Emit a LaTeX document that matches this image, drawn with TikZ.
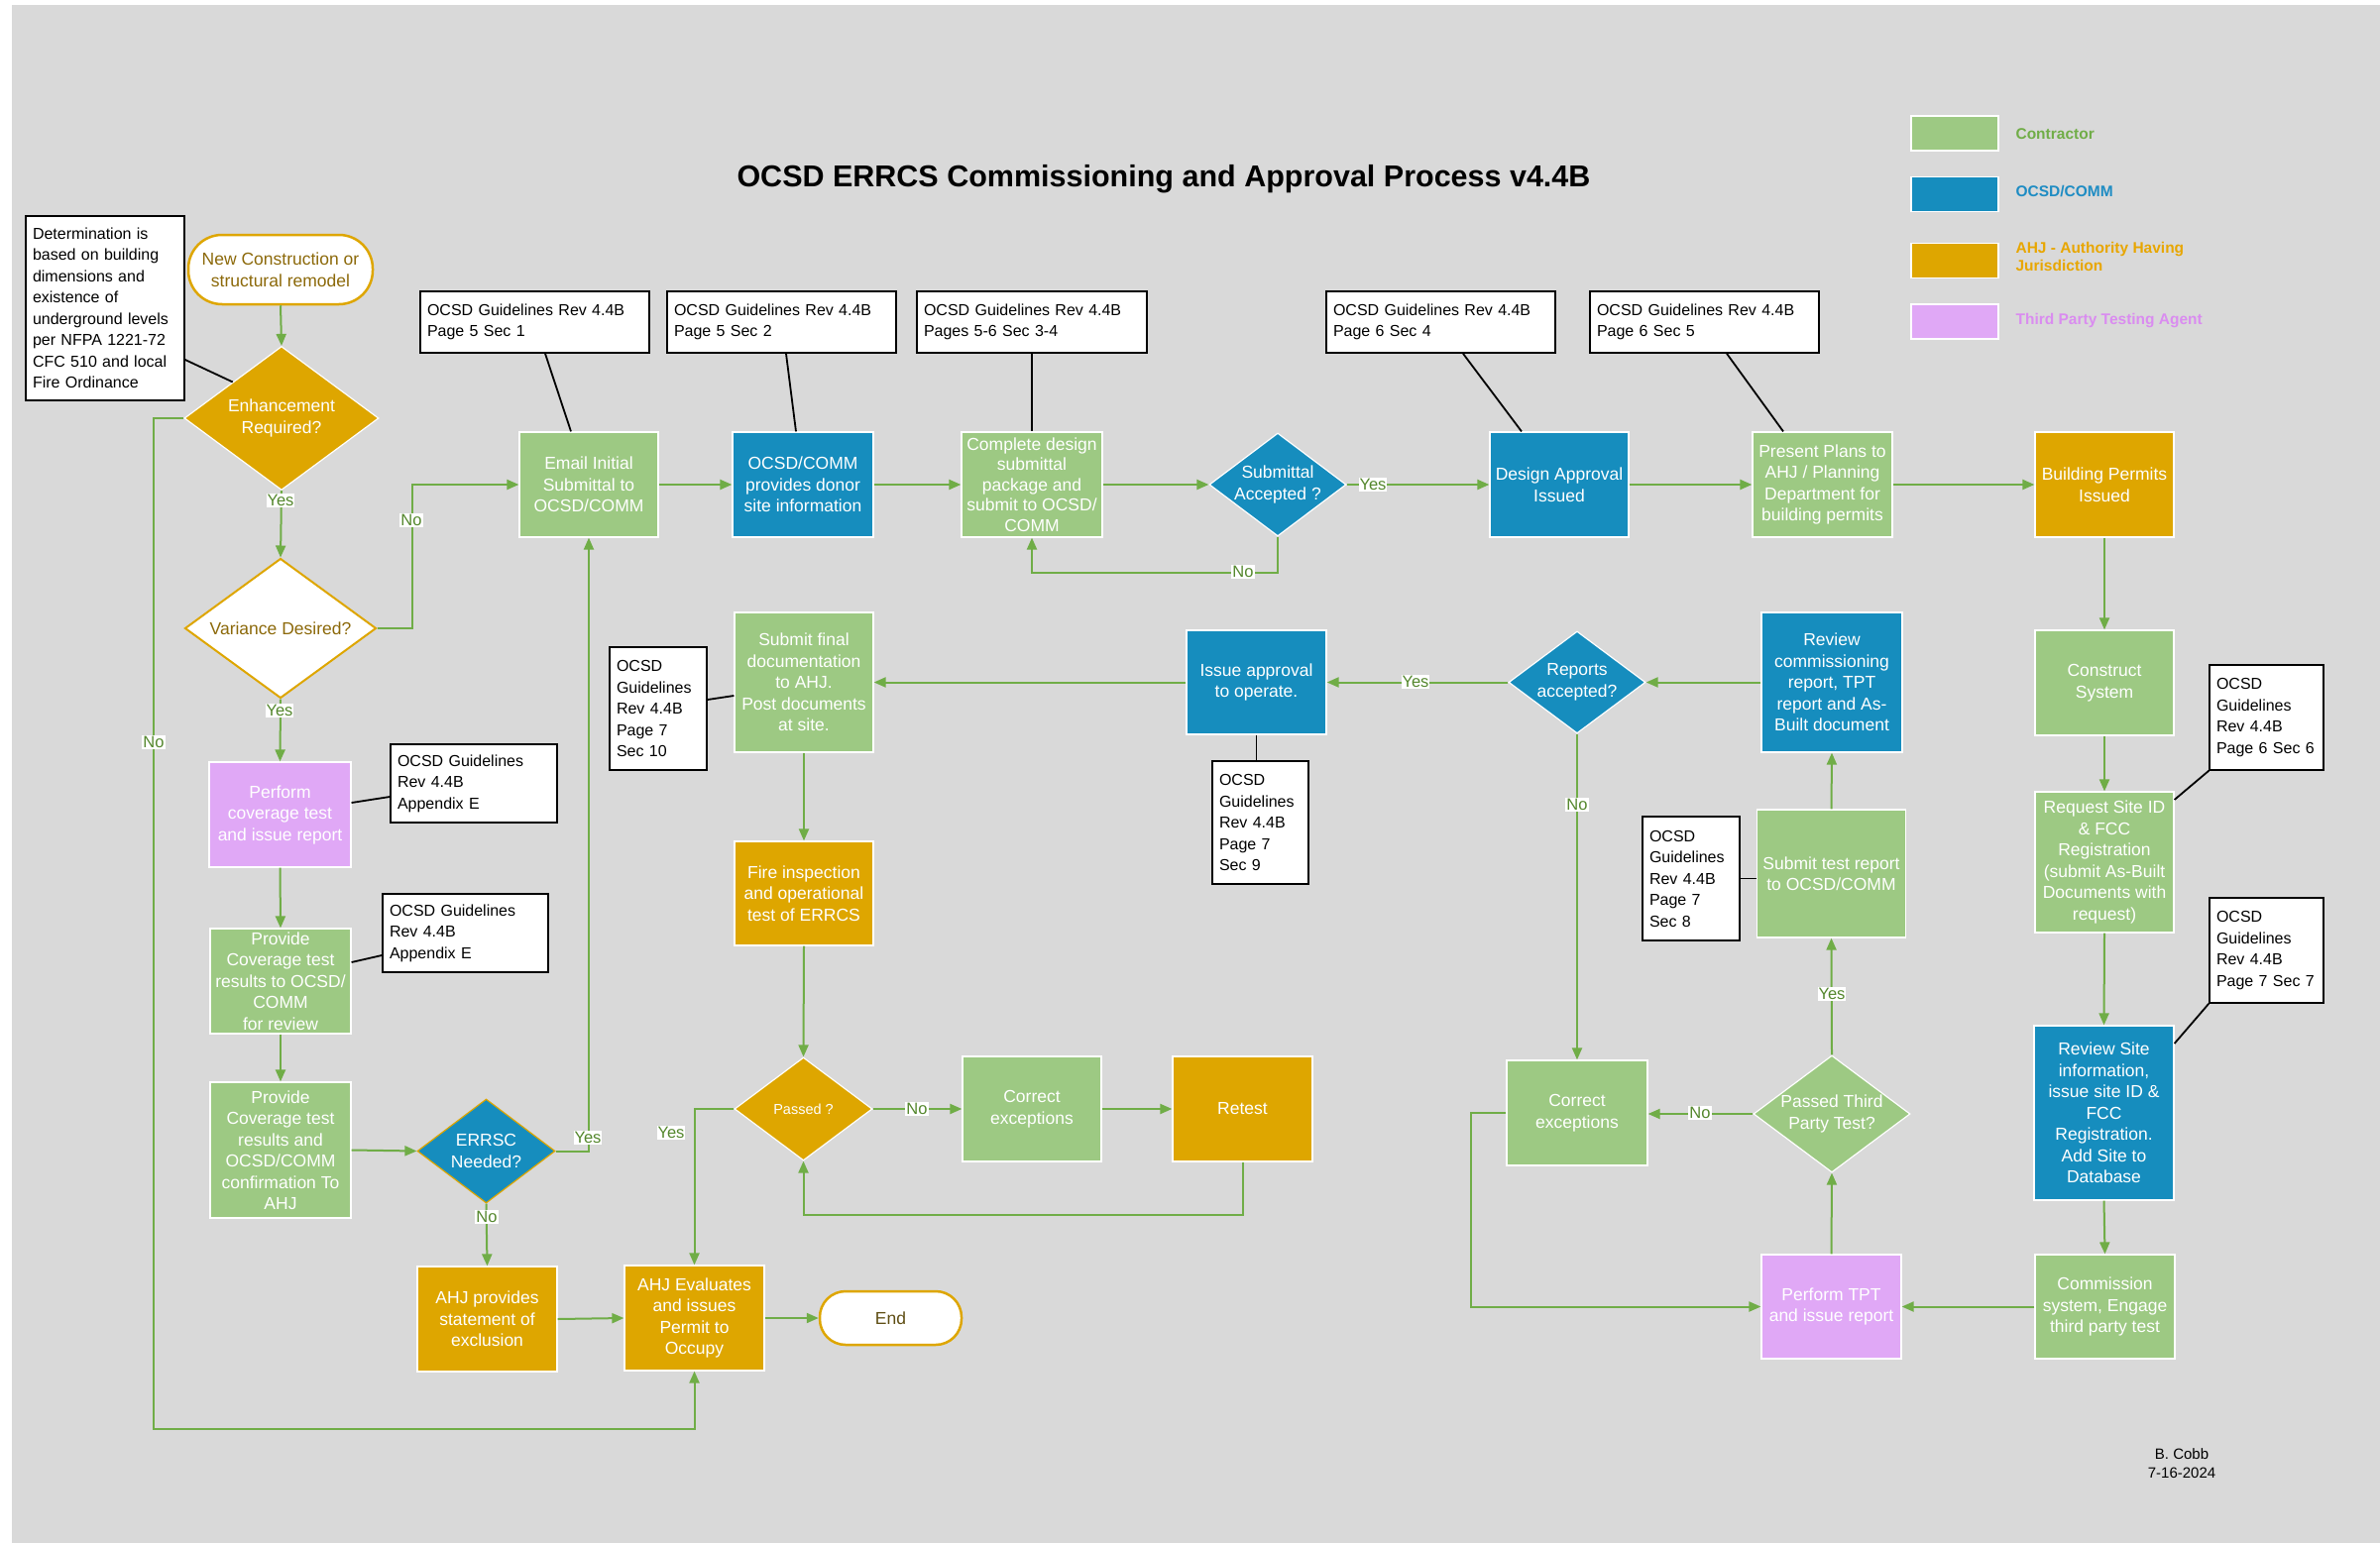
\documentclass[tikz,border=0pt]{standalone}
\usepackage{fontspec}
\setmainfont{Liberation Sans}
\usetikzlibrary{shapes.geometric,arrows.meta,calc}
\definecolor{bgc}{RGB}{217,217,217}
\definecolor{cgreen}{RGB}{157,201,131}
\definecolor{cblue}{RGB}{22,141,190}
\definecolor{cgold}{RGB}{222,166,0}
\definecolor{cpink}{RGB}{224,168,246}
\definecolor{cline}{RGB}{112,173,71}
\definecolor{clbl}{RGB}{84,135,45}
\definecolor{cterm}{RGB}{140,105,10}
\definecolor{cend}{RGB}{95,78,20}
\definecolor{lgreen}{RGB}{112,173,71}
\definecolor{lblue}{RGB}{30,140,195}
\definecolor{lgold}{RGB}{232,166,0}
\definecolor{lpink}{RGB}{218,140,240}
\begin{document}
\begin{tikzpicture}[x=1pt,y=-1pt,
  box/.style={rectangle, draw=white, line width=1.2pt, text=white, align=center, inner sep=2pt, font=\fontsize{17.5}{21.5}\selectfont},
  gbox/.style={box, fill=cgreen},
  bbox/.style={box, fill=cblue},
  obox/.style={box, fill=cgold},
  pbox/.style={box, fill=cpink},
  dia/.style={diamond, inner sep=0pt, line width=1.2pt, draw=white},
  dtxt/.style={text=white, align=center, font=\fontsize{17.5}{21.5}\selectfont},
  note/.style={rectangle, draw=black, line width=1.6pt, fill=white, align=left, inner xsep=7pt, inner ysep=0pt, font=\fontsize{16}{21.5}\selectfont},
  term/.style={rectangle, rounded corners=26pt, draw=cgold, line width=2.5pt, fill=white, align=center, font=\fontsize{17.5}{21.5}\selectfont},
  arr/.style={draw=cline, line width=2pt, -{Triangle[length=12pt,width=10pt]}},
  lead/.style={draw=black, line width=1.8pt},
  lbl/.style={fill=white, text=clbl, inner sep=1pt, font=\fontsize{16.5}{18}\selectfont},
  lgbox/.style={rectangle, draw=white, line width=1.5pt, minimum width=88pt, minimum height=35pt},
  lgtxt/.style={anchor=west, align=left, font=\bfseries\fontsize{15.5}{18}\selectfont}
]
\useasboundingbox (0,0) rectangle (2401,1557);
\fill[white] (0,0) rectangle (2401,1557);
\fill[bgc] (12,5) rectangle (2401,1557);

% title
\node[font=\bfseries\fontsize{30.5}{36}\selectfont] (title) at (1174,181) {OCSD ERRCS Commissioning and Approval Process v4.4B};

% legend
\node[lgbox, fill=cgreen] (lg1) at (1972,134.5) {};
\node[lgtxt, text=lgreen] (lg1t) at (2030,135) {Contractor};
\node[lgbox, fill=cblue] (lg2) at (1972,196) {};
\node[lgtxt, text=lblue] (lg2t) at (2030,193) {OCSD/COMM};
\node[lgbox, fill=cgold] (lg3) at (1972,263) {};
\node[lgtxt, text=lgold] (lg3t) at (2030,259) {AHJ - Authority Having\\Jurisdiction};
\node[lgbox, fill=cpink] (lg4) at (1972,324.5) {};
\node[lgtxt, text=lpink] (lg4t) at (2030,324) {Third Party Testing Agent};

% signature
\node[align=center, font=\fontsize{15}{19}\selectfont] (sig) at (2201,1477) {B. Cobb\\7-16-2024};

% ---------- left column ----------
\node[note, minimum width=160pt, minimum height=186pt, text width=146pt] (det) at (106,311) {Determination is\\based on building\\dimensions and\\existence of\\underground levels\\per NFPA 1221-72\\CFC 510 and local\\Fire Ordinance};
\node[term, rounded corners=34pt, text=cterm, minimum width=186pt, minimum height=70pt] (new) at (283,272) {New Construction or\\structural remodel};
\node[dia, fill=cgold, minimum width=196pt, minimum height=145pt, label={[dtxt]center:Enhancement\\Required?}] (enh) at (284,422) {};
\node[dia, fill=white, draw=cgold, line width=2pt, minimum width=193pt, minimum height=141pt, label={[dtxt, text=cterm]center:Variance Desired?}] (var) at (283,634) {};
\node[pbox, minimum width=143pt, minimum height=106pt] (perform) at (282.5,822) {Perform\\coverage test\\and issue report};
\node[note, minimum width=168pt, minimum height=79pt, text width=154pt] (noteA) at (478,790.5) {OCSD Guidelines\\Rev 4.4B\\Appendix E};
\node[gbox, minimum width=142pt, minimum height=106pt] (provrev) at (283,990) {Provide\\Coverage test\\results to OCSD/\\COMM\\for review};
\node[note, minimum width=167pt, minimum height=79pt, text width=153pt] (noteB) at (469.5,941.5) {OCSD Guidelines\\Rev 4.4B\\Appendix E};
\node[gbox, minimum width=142pt, minimum height=137pt] (provconf) at (283,1160.5) {Provide\\Coverage test\\results and\\OCSD/COMM\\confirmation To\\AHJ};
\node[dia, fill=cblue, draw=cgold, minimum width=139pt, minimum height=105pt, label={[dtxt]center:ERRSC\\Needed?}] (errsc) at (490.5,1161.5) {};
\node[obox, minimum width=141pt, minimum height=106pt] (ahjprov) at (491.5,1331) {AHJ provides\\statement of\\exclusion};
\node[obox, minimum width=141pt, minimum height=106pt] (ahjeval) at (700.5,1330) {AHJ Evaluates\\and issues\\Permit to\\Occupy};
\node[term, rounded corners=26pt, text=cend, minimum width=143pt, minimum height=54pt] (end) at (898.5,1330) {End};

% ---------- top row ----------
\node[note, minimum width=231pt, minimum height=62pt, text width=217pt] (note1) at (539.5,325) {OCSD Guidelines Rev 4.4B\\Page 5 Sec 1};
\node[note, minimum width=231pt, minimum height=62pt, text width=217pt] (note2) at (788.5,325) {OCSD Guidelines Rev 4.4B\\Page 5 Sec 2};
\node[note, minimum width=232pt, minimum height=62pt, text width=218pt] (note3) at (1041,325) {OCSD Guidelines Rev 4.4B\\Pages 5-6 Sec 3-4};
\node[note, minimum width=231pt, minimum height=62pt, text width=217pt] (note4) at (1453.5,325) {OCSD Guidelines Rev 4.4B\\Page 6 Sec 4};
\node[note, minimum width=231pt, minimum height=62pt, text width=217pt] (note5) at (1719.5,325) {OCSD Guidelines Rev 4.4B\\Page 6 Sec 5};

\node[gbox, minimum width=140pt, minimum height=106pt] (email) at (594,489) {Email Initial\\Submittal to\\OCSD/COMM};
\node[bbox, minimum width=142pt, minimum height=106pt] (donor) at (810,489) {OCSD/COMM\\provides donor\\site information};
\node[gbox, minimum width=142pt, minimum height=106pt, font=\fontsize{17.5}{20.5}\selectfont] (complete) at (1041,489) {Complete design\\submittal\\package and\\submit to OCSD/\\COMM};
\node[dia, fill=cblue, minimum width=138pt, minimum height=104pt, label={[dtxt]center:Submittal\\Accepted ?}] (sub) at (1289,489) {};
\node[bbox, minimum width=140pt, minimum height=106pt] (design) at (1573,489) {Design Approval\\Issued};
\node[gbox, minimum width=141pt, minimum height=106pt] (present) at (1838.5,489) {Present Plans to\\AHJ / Planning\\Department for\\building permits};
\node[obox, minimum width=140pt, minimum height=106pt] (permits) at (2123,489) {Building Permits\\Issued};

% ---------- middle ----------
\node[gbox, minimum width=140pt, minimum height=141pt] (final) at (811,688.5) {Submit final\\documentation\\to AHJ.\\Post documents\\at site.};
\node[note, minimum width=98pt, minimum height=124pt, text width=84pt] (note10) at (664,715) {OCSD\\Guidelines\\Rev 4.4B\\Page 7\\Sec 10};
\node[obox, minimum width=140pt, minimum height=105pt] (fire) at (811,901.5) {Fire inspection\\and operational\\test of ERRCS};
\node[bbox, minimum width=141pt, minimum height=105pt] (issue) at (1267.5,688.5) {Issue approval\\to operate.};
\node[note, minimum width=97pt, minimum height=124pt, text width=83pt] (note9) at (1271.5,830) {OCSD\\Guidelines\\Rev 4.4B\\Page 7\\Sec 9};
\node[dia, fill=cblue, minimum width=138pt, minimum height=103pt, label={[dtxt]center:Reports\\accepted?}] (reports) at (1591,688.5) {};
\node[bbox, minimum width=142pt, minimum height=141pt] (revcomm) at (1848,688.5) {Review\\commissioning\\report, TPT\\report and As-\\Built document};
\node[gbox, minimum width=150pt, minimum height=129pt] (subtest) at (1847.5,881.5) {Submit test report\\to OCSD/COMM};
\node[note, minimum width=98pt, minimum height=125pt, text width=84pt] (note8) at (1706,886.5) {OCSD\\Guidelines\\Rev 4.4B\\Page 7\\Sec 8};

% ---------- right column ----------
\node[gbox, minimum width=140pt, minimum height=106pt] (construct) at (2123,689) {Construct\\System};
\node[gbox, minimum width=140pt, minimum height=142pt] (request) at (2123,870) {Request Site ID\\\& FCC\\Registration\\(submit As-Built\\Documents with\\request)};
\node[note, minimum width=115pt, minimum height=106pt, text width=101pt] (note6) at (2286.5,724) {OCSD\\Guidelines\\Rev 4.4B\\Page 6 Sec 6};
\node[note, minimum width=115pt, minimum height=106pt, text width=101pt] (note7) at (2286.5,959) {OCSD\\Guidelines\\Rev 4.4B\\Page 7 Sec 7};
\node[bbox, minimum width=141pt, minimum height=176pt] (revsite) at (2122.5,1123) {Review Site\\information,\\issue site ID \&\\FCC\\Registration.\\Add Site to\\Database};
\node[gbox, minimum width=141pt, minimum height=105pt] (commission) at (2123.5,1318.5) {Commission\\system, Engage\\third party test};
\node[pbox, minimum width=141pt, minimum height=105pt] (tpt) at (1847.5,1318.5) {Perform TPT\\and issue report};
\node[dia, fill=cgreen, minimum width=158pt, minimum height=118pt, label={[dtxt]center:Passed Third\\Party Test?}] (passed3) at (1848,1124) {};
\node[gbox, minimum width=142pt, minimum height=106pt] (correctR) at (1591,1123) {Correct\\exceptions};

% ---------- bottom middle ----------
\node[dia, fill=cgold, minimum width=139pt, minimum height=104pt, label={[dtxt, font=\fontsize{14.5}{17}\selectfont]center:Passed ?}] (passed) at (810.5,1119) {};
\node[gbox, minimum width=140pt, minimum height=106pt] (correctL) at (1041,1119) {Correct\\exceptions};
\node[obox, minimum width=141pt, minimum height=106pt] (retest) at (1253.5,1119) {Retest};

% ---------- leader lines ----------
\draw[lead] ([yshift=-52pt]det.east) -- (enh.north west);
\draw[lead] ([xshift=10.5pt]note1.south) -- ([xshift=-18pt]email.north);
\draw[lead] ([xshift=4.5pt]note2.south) -- ([xshift=-7pt]donor.north);
\draw[lead] (note3.south) -- (complete.north);
\draw[lead] ([xshift=22.5pt]note4.south) -- ([xshift=-38pt]design.north);
\draw[lead] ([xshift=22.5pt]note5.south) -- ([xshift=-39.5pt]present.north);
\draw[lead] ([yshift=12pt]perform.east) -- ([yshift=-13.5pt]noteA.west);
\draw[lead] ([yshift=19pt]provrev.east) -- ([yshift=-22.5pt]noteB.west);
\draw[lead] ([yshift=9pt]note10.east) -- ([yshift=-13.5pt]final.west);
\draw[lead] (issue.south) -- (issue.south |- note9.north);
\draw[lead] (note8.east) -- (note8.east -| subtest.west);
\draw[lead] (note6.south west) -- ([yshift=63pt]request.east);
\draw[lead] (note7.south west) -- ([yshift=70pt]revsite.east);

% ---------- connectors ----------
\coordinate (loopB) at (155,1442);
\draw[arr] (new.south) -- (enh.north);
\draw[arr] (enh.south) -- (var.north);
\draw[arr] (var.east) -- ++(35,0) |- (email.west);
\draw[arr] (enh.west) -| (loopB) -| (ahjeval.south);
\draw[arr] (var.south) -- (perform.north);
\draw[arr] (perform.south) -- (provrev.north);
\draw[arr] (provrev.south) -- (provconf.north);
\draw[arr] (provconf.east) -- (errsc.west);
\draw[arr] (errsc.east) -| (email.south);
\draw[arr] (errsc.south) -- (ahjprov.north);
\draw[arr] (ahjprov.east) -- (ahjeval.west);
\draw[arr] (ahjeval.east) -- (end.west);
\draw[arr] (email.east) -- (donor.west);
\draw[arr] (donor.east) -- (complete.west);
\draw[arr] (complete.east) -- (sub.west);
\draw[arr] (sub.east) -- (design.west);
\draw[arr] (sub.south) -- ++(0,36) -| (complete.south);
\draw[arr] (design.east) -- (present.west);
\draw[arr] (present.east) -- (permits.west);
\draw[arr] (permits.south) -- (construct.north);
\draw[arr] (construct.south) -- (request.north);
\draw[arr] (request.south) -- (revsite.north);
\draw[arr] (revsite.south) -- (commission.north);
\draw[arr] (commission.west) -- (tpt.east);
\draw[arr] (tpt.north) -- (passed3.south);
\draw[arr] (passed3.north) -- (subtest.south);
\draw[arr] (passed3.west) -- (passed3.west -| correctR.east);
\draw[arr] (correctR.west) -- ++(-35,0) |- (tpt.west);
\draw[arr] (subtest.north) -- (revcomm.south);
\draw[arr] (revcomm.west) -- (reports.east);
\draw[arr] (reports.west) -- (issue.east);
\draw[arr] (reports.south) -- (correctR.north);
\draw[arr] (issue.west) -- (final.east);
\draw[arr] (final.south) -- (fire.north);
\draw[arr] (fire.south) -- (passed.north);
\draw[arr] (passed.east) -- (correctL.west);
\draw[arr] (correctL.east) -- (retest.west);
\draw[arr] (retest.south) -- ++(0,53) -| (passed.south);
\draw[arr] (passed.west) -| (ahjeval.north);

% ---------- labels ----------
\node[lbl] (lEY) at (283,505) {Yes};
\node[lbl] (lVN) at (415,525) {No};
\node[lbl] (lVY) at (282,717) {Yes};
\node[lbl] (lEN) at (155,749) {No};
\node[lbl] (lSY) at (1385,489) {Yes};
\node[lbl] (lSN) at (1254,577) {No};
\node[lbl] (lXY) at (593,1148) {Yes};
\node[lbl] (lXN) at (491,1228) {No};
\node[lbl] (lPY) at (677,1143) {Yes};
\node[lbl] (lPN) at (925,1119) {No};
\node[lbl] (lRY) at (1428,688) {Yes};
\node[lbl] (lRN) at (1591,812) {No};
\node[lbl] (l3Y) at (1848,1003) {Yes};
\node[lbl] (l3N) at (1715,1123) {No};
\end{tikzpicture}
\end{document}
